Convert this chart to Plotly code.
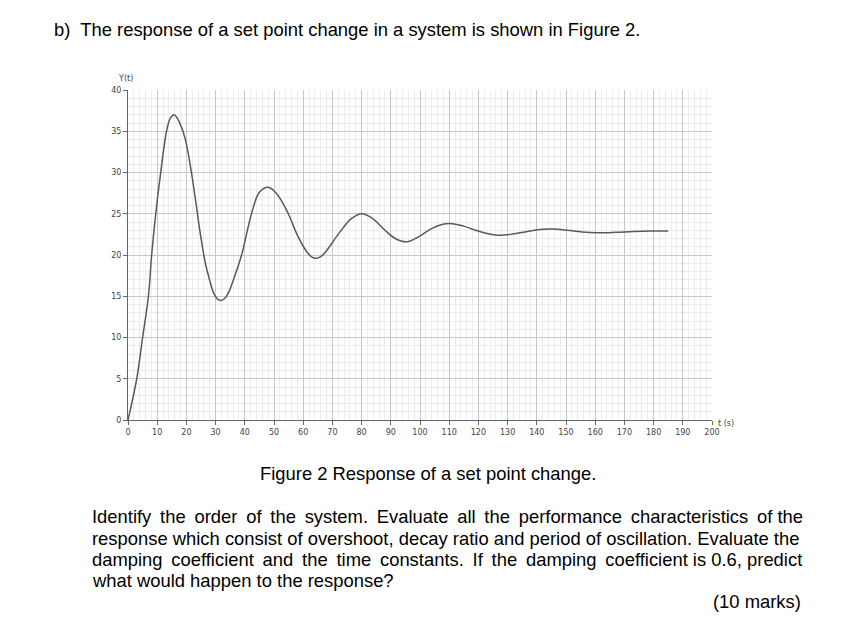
import plotly.graph_objects as go

# --- dados ---
t_s = [0, 3, 5, 7, 8.1, 9.5, 11.2, 13.2, 14.5, 15.8, 17.3, 19.5, 21.5, 23.2, 24.8, 26.5,
       28, 29.2, 30.3, 31.5, 33, 34.5, 36.5, 38.9, 42.3, 45, 48, 51, 54.9, 58, 61.2, 63,
       64.4, 66, 67.5, 72.6, 76.5, 80, 83.5, 88, 91.5, 95.5, 99.5, 103.5, 107.5, 111, 115,
       119, 123, 126.7, 131, 136, 141, 145.5, 150.5, 155.5, 160.6, 167, 173, 179, 185]
y_t = [0, 5, 10, 15, 20, 25, 30, 35, 36.6, 37.0, 36.3, 34.2, 30.5, 26.5, 22.5, 19,
       16.9, 15.5, 14.8, 14.5, 14.7, 15.5, 17.4, 20, 25, 27.6, 28.2, 27.4, 25, 22.4, 20.4, 19.75,
       19.6, 19.8, 20.3, 22.8, 24.4, 25.0, 24.5, 23.0, 22.0, 21.6, 22.2, 23.1, 23.7, 23.8, 23.5,
       23.0, 22.6, 22.4, 22.5, 22.8, 23.1, 23.15, 23.0, 22.8, 22.7, 22.75, 22.85, 22.9, 22.9]

x_ticks = list(range(0, 201, 10))
y_ticks = list(range(0, 41, 5))

OFF = 8  # margem do body da página html
W, H = 852 - OFF, 618 - OFF
L, R, T, B = 128 - OFF, 140, 90 - OFF, 198
PW, PH = W - L - R, H - T - B

def px(x, y):
    # pixel da referência -> coordenadas paper
    return (x - OFF - L) / PW, (H - B - (y - OFF)) / PH

TEXT_FONT = dict(family="Liberation Sans, Arial", size=18.4, color="black")
AXIS_FONT = dict(family="DejaVu Sans, Verdana", size=8, color="#444")
TS = "\u2009"  # espaço fino para "justificar" as linhas

annos = [
    ("b)  The response of a set point change in a system is shown in Figure 2.", 52, 30, "left"),
    ("Figure 2 Response of a set point change.", 428, 473, "center"),
    ("Identify the order of the system. Evaluate all the performance characteristics of the", 90, 516, "left"),
    ("response which consist of overshoot, decay ratio and period of oscillation. Evaluate the", 90, 538, "left"),
    ("damping coefficient and the time constants. If the damping coefficient is 0.6, predict", 90, 559, "left"),
    ("what would happen to the response?", 90, 580, "left"),
    ("(10 marks)", 803, 601, "right"),
]
just_lines = {2: 11, 4: 9}  # linha -> nº de espaços finos extra

fig = go.Figure()
fig.add_trace(go.Scatter(
    x=t_s, y=y_t, mode="lines",
    line=dict(color="#595959", width=1.5, shape="spline", smoothing=1),
    hoverinfo="skip", showlegend=False
))

fig.update_xaxes(
    range=[0, 200], tickvals=x_ticks, ticks="outside", ticklen=4, tickcolor="#666",
    showline=True, linecolor="#666", linewidth=1, zeroline=False,
    showgrid=True, gridcolor="#c8c8c8", gridwidth=1,
    minor=dict(dtick=2, showgrid=True, gridcolor="#ececec", gridwidth=1),
    tickfont=AXIS_FONT
)
fig.update_yaxes(
    range=[0, 40], tickvals=y_ticks, ticks="outside", ticklen=4, tickcolor="#666",
    showline=True, linecolor="#666", linewidth=1, zeroline=False,
    showgrid=True, gridcolor="#c8c8c8", gridwidth=1,
    minor=dict(dtick=1, showgrid=True, gridcolor="#ececec", gridwidth=1),
    tickfont=AXIS_FONT
)

for i, (txt, x, y, anchor) in enumerate(annos):
    if i in just_lines:
        words = txt.split(" ")
        n = just_lines[i]
        txt = words[0]
        for k, w in enumerate(words[1:]):
            txt += (" " + TS if k < n else " ") + w
    ax, ay = px(x, y)
    fig.add_annotation(text=txt, x=ax, y=ay, xref="paper", yref="paper",
                       xanchor=anchor, yanchor="middle", showarrow=False, font=TEXT_FONT)

for txt, x, y, anchor in [("Y(t)", 125, 78, "center"), ("t (s)", 716, 423, "left")]:
    ax, ay = px(x, y)
    fig.add_annotation(text=txt, x=ax, y=ay, xref="paper", yref="paper",
                       xanchor=anchor, yanchor="middle", showarrow=False, font=AXIS_FONT)

fig.update_layout(
    width=W, height=H,
    margin=dict(l=L, r=R, t=T, b=B),
    plot_bgcolor="white", paper_bgcolor="white"
)

fig.write_html("out.html")
